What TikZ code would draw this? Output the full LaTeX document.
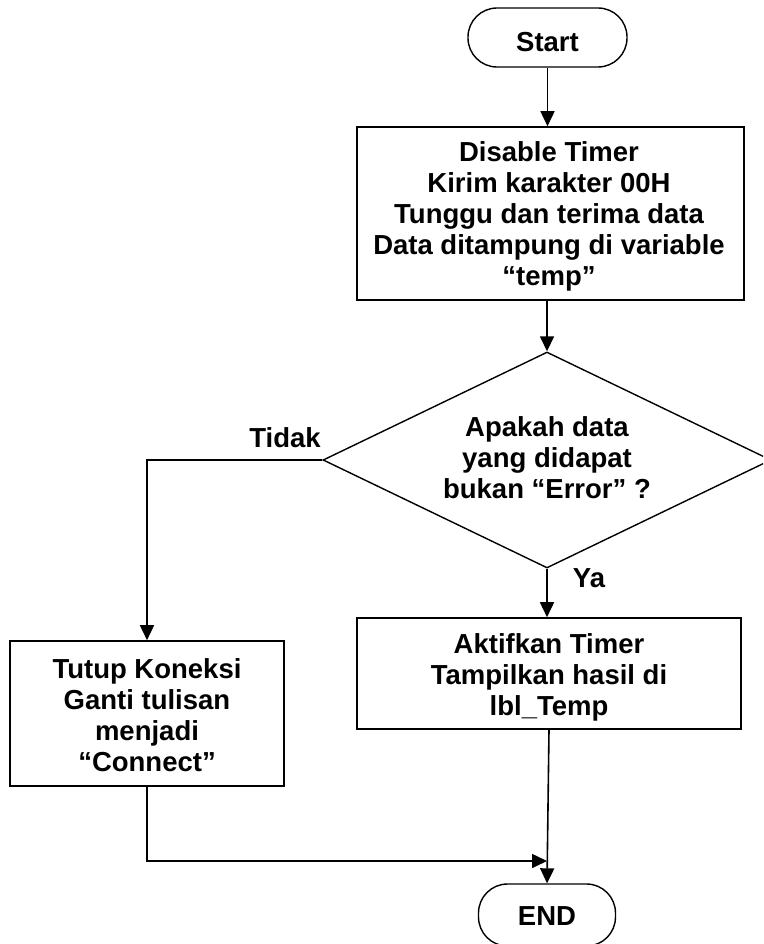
\documentclass[tikz,border=0pt]{standalone}
\usepackage{fontspec}
\setmainfont{Liberation Sans}
\usetikzlibrary{shapes.geometric,arrows.meta}
\begin{document}
\begin{tikzpicture}[x=1pt,y=-1pt,
  every node/.style={font=\bfseries\fontsize{27.5}{31}\selectfont, align=center, inner sep=0pt},
  proc/.style={draw, rectangle, line width=1.6pt},
  term/.style={draw, rectangle, rounded corners=29pt, line width=1.4pt},
  decis/.style={draw, diamond, line width=1.4pt},
  arr/.style={-{Triangle[length=15pt,width=14pt]}, line width=1.6pt}
]
\useasboundingbox (0,0) rectangle (763,944);
\clip (0,0) rectangle (763,944);

\node[term, minimum width=159pt, minimum height=59pt] (start) at (547.5,37.5) {};
\node (startt) at (547.5,42) {Start};
\node[proc, minimum width=387pt, minimum height=173pt] (box1) at (550.5,213.5) {};
\node (box1t) at (549,216.5)
  {Disable Timer\\Kirim karakter 00H\\Tunggu dan terima data\\Data ditampung di variable\\“temp”};
\node[decis, minimum width=448pt, minimum height=216pt] (dia) at (547,460) {};
\node (diat) at (547,458) {Apakah data\\yang didapat\\bukan “Error” ?};
\node[proc, minimum width=384pt, minimum height=111pt] (box2) at (549,673.5) {};
\node (box2t) at (549,677) {Aktifkan Timer\\Tampilkan hasil di\\lbl\_Temp};
\node[proc, minimum width=274pt, minimum height=145pt] (box3) at (147,713.5) {};
\node (box3t) at (147,715.5) {Tutup Koneksi\\Ganti tulisan\\menjadi\\“Connect”};
\node[term, minimum width=137pt, minimum height=62pt] (end) at (547,915) {};
\node (endt) at (547,916) {END};

\node (tidak) at (285,438) {Tidak};
\node (ya) at (589,578) {Ya};

\coordinate (m) at (547,861);

\draw[arr] (start.south) -- (start.south |- box1.north);
\draw[arr] (dia.north |- box1.south) -- (dia.north);
\draw[arr] (dia.south) -- (dia.south |- box2.north);
\draw[arr] (dia.west) -| (box3.north);
\draw[arr] (box2.south) -- (end.north);
\draw[arr] (box3.south) |- (m);
\end{tikzpicture}
\end{document}
